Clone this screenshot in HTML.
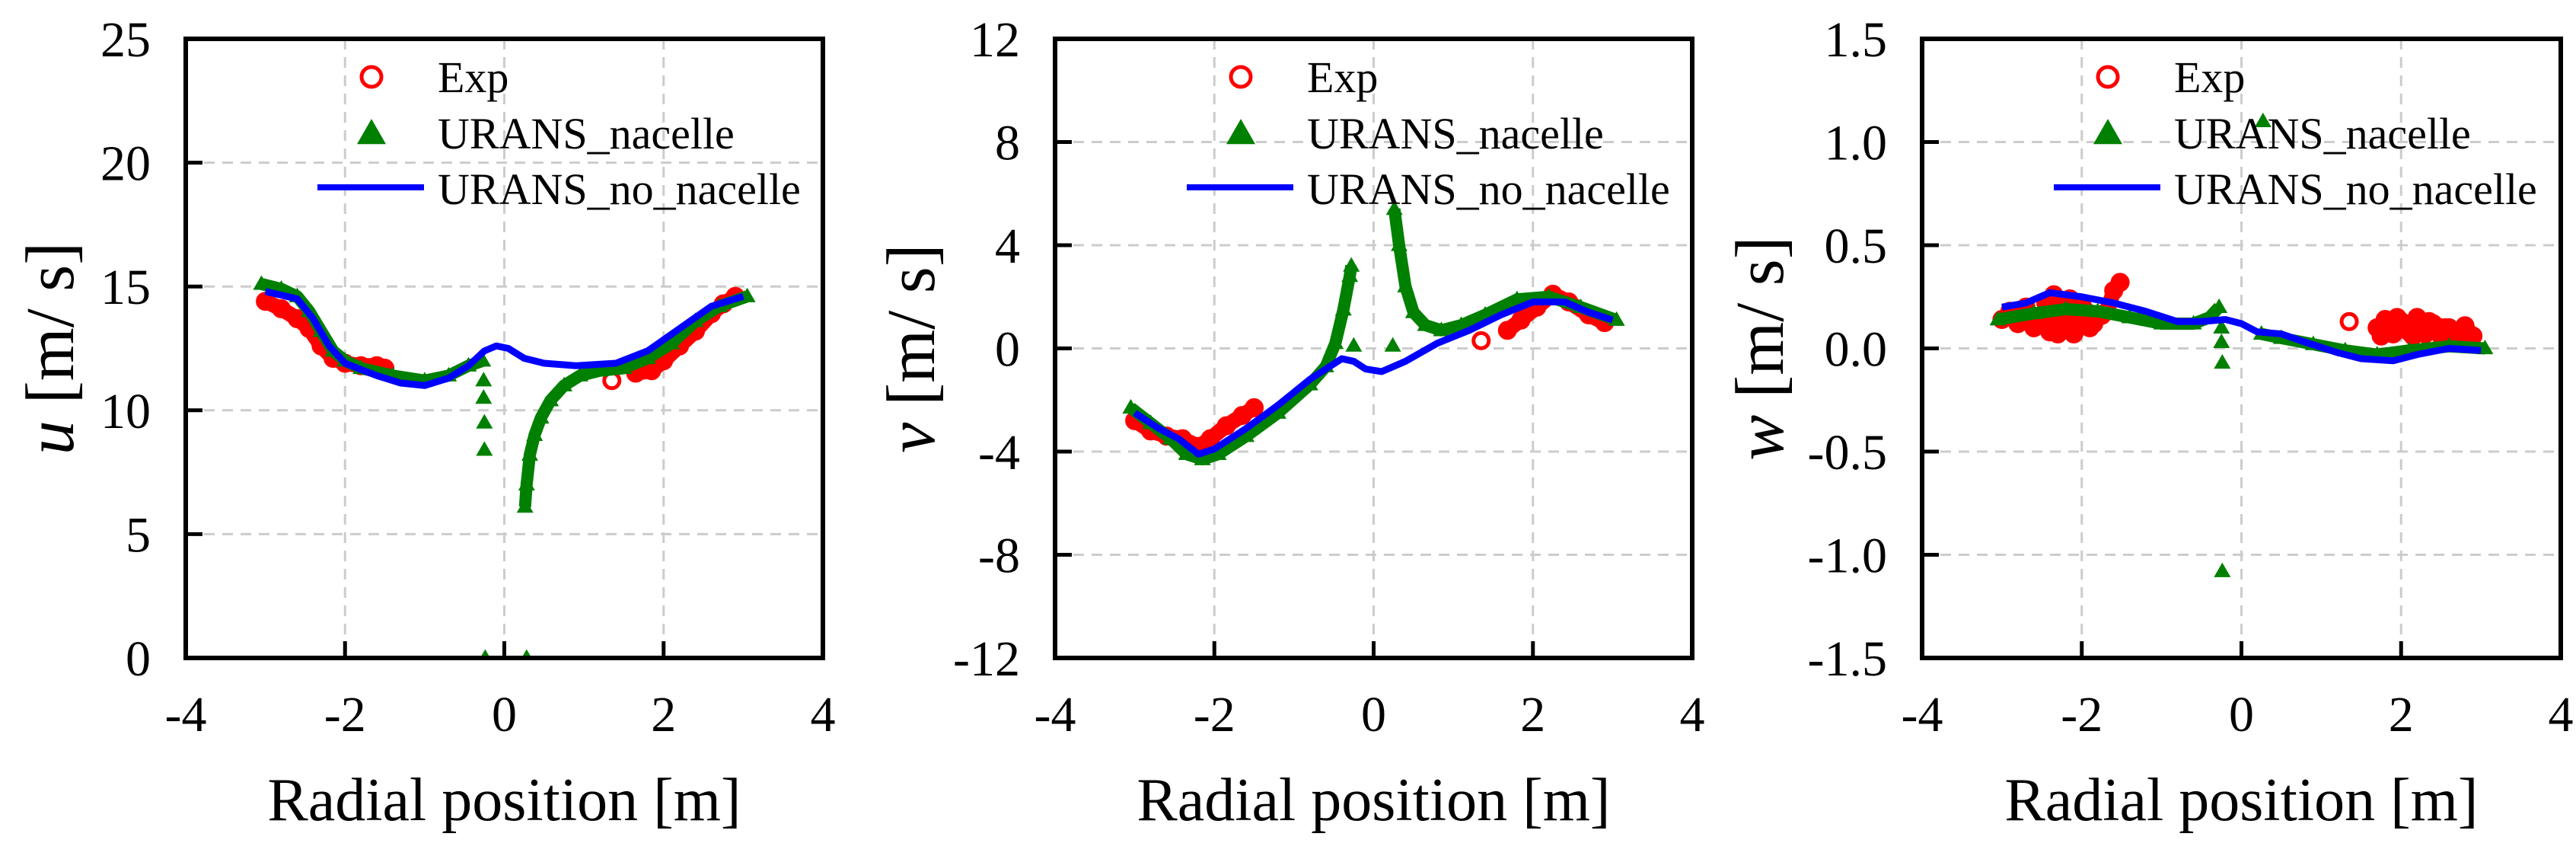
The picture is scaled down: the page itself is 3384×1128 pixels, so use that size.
<!DOCTYPE html>
<html><head><meta charset="utf-8">
<style>
html,body{margin:0;padding:0;background:#fff;}
svg{display:block;font-family:"Liberation Serif",serif;}
</style></head>
<body>
<svg id="fig" xmlns="http://www.w3.org/2000/svg" width="3384" height="1128" viewBox="0 0 3384 1128"></svg>
<script>
// ---------- data ----------
const xTicks = [-4,-2,0,2,4];
const uTicks = [0,5,10,15,20,25];
const vTicks = [-12,-8,-4,0,4,8,12];
const wTicks = [-1.5,-1.0,-0.5,0.0,0.5,1.0,1.5];
const wTickLabels = ["-1.5","-1.0","-0.5","0.0","0.5","1.0","1.5"];

const uExp = [
 [[-3.0,14.4],[-2.8,14.1],[-2.6,13.7],[-2.45,13.3],[-2.3,12.6],[-2.15,12.1],[-2.0,11.9],[-1.8,11.8],[-1.6,11.8],[-1.5,11.7]],
 [[1.35,11.2]],
 [[1.65,11.5],[1.85,11.6],[2.0,12.0],[2.2,12.6],[2.4,13.2],[2.6,13.9],[2.75,14.3],[2.9,14.6]]
];
const uNac = [
 [[-3.05,15.1],[-2.8,14.9],[-2.6,14.6],[-2.45,14.0],[-2.3,13.2],[-2.15,12.4],[-2.0,12.0],[-1.8,11.7],[-1.4,11.4],[-1.0,11.2],[-0.7,11.4],[-0.45,11.8],[-0.27,12.0]],
 [[-0.26,11.2]],[[-0.26,10.5]],[[-0.25,9.5]],[[-0.25,8.4]],[[-0.24,0.0]],[[0.28,0.0]],
 [[0.26,6.1],[0.28,7.0],[0.32,8.2],[0.38,9.0],[0.46,9.7],[0.58,10.4],[0.75,11.0],[0.95,11.4],[1.2,11.6],[1.5,11.7],[1.8,12.1],[2.1,12.7],[2.4,13.6],[2.7,14.2],[3.05,14.6]]
];
const uNoNac = [[-3.0,14.8],[-2.6,14.5],[-2.4,13.7],[-2.2,12.6],[-2.0,11.9],[-1.6,11.4],[-1.3,11.1],[-1.0,11.0],[-0.7,11.3],[-0.45,11.8],[-0.25,12.4],[-0.1,12.6],[0.05,12.5],[0.25,12.1],[0.5,11.9],[0.9,11.8],[1.4,11.9],[1.8,12.4],[2.2,13.3],[2.6,14.2],[3.0,14.6]];

const vExp = [
 [[-3.0,-2.8],[-2.8,-3.2],[-2.6,-3.4],[-2.4,-3.5],[-2.2,-3.8],[-2.05,-3.5],[-1.85,-3.0],[-1.65,-2.6],[-1.5,-2.3]],
 [[1.35,0.3]],
 [[1.68,0.7],[1.85,1.1],[2.05,1.6],[2.25,2.1],[2.45,1.8],[2.7,1.3],[2.9,1.0]]
];
const vNac = [
 [[-3.05,-2.3],[-2.8,-2.9],[-2.55,-3.5],[-2.35,-4.1],[-2.15,-4.3],[-1.95,-4.1],[-1.6,-3.4],[-1.2,-2.5],[-0.8,-1.4],[-0.6,-0.7],[-0.48,0.2],[-0.38,1.5],[-0.3,2.8],[-0.28,3.2]],
 [[-0.25,0.1]],[[0.24,0.1]],
 [[0.26,5.4],[0.32,4.0],[0.4,2.4],[0.5,1.4],[0.65,0.9],[0.85,0.7],[1.1,0.9],[1.4,1.3],[1.8,1.9],[2.2,2.0],[2.6,1.6],[3.05,1.1]]
];
const vNoNac = [[-3.0,-2.5],[-2.7,-3.1],[-2.45,-3.5],[-2.2,-4.1],[-2.0,-3.9],[-1.6,-3.1],[-1.2,-2.2],[-0.8,-1.2],[-0.6,-0.8],[-0.4,-0.4],[-0.25,-0.5],[-0.1,-0.8],[0.1,-0.9],[0.4,-0.5],[0.8,0.2],[1.2,0.7],[1.6,1.3],[2.0,1.8],[2.4,1.8],[2.7,1.4],[3.0,1.1]];

const wExp = [
 [[-3.0,0.14],[-2.9,0.18],[-2.8,0.12],[-2.7,0.2],[-2.6,0.1],[-2.5,0.16],[-2.4,0.08],[-2.35,0.26],[-2.25,0.12],[-2.15,0.24],[-2.05,0.1],[-1.95,0.18],[-1.85,0.12],[-1.75,0.16]],
 [[-2.45,0.22],[-2.3,0.07],[-2.2,0.2],[-2.1,0.07],[-2.0,0.22],[-1.9,0.1]],
 [[-1.68,0.18],[-1.6,0.28],[-1.52,0.32]],
 [[1.35,0.13]],
 [[1.7,0.1],[1.8,0.14],[1.9,0.07],[2.0,0.13],[2.1,0.08],[2.2,0.15],[2.3,0.07],[2.4,0.12],[2.5,0.06],[2.6,0.1],[2.7,0.05],[2.8,0.11],[2.9,0.06]],
 [[1.75,0.06],[1.95,0.15],[2.15,0.06],[2.35,0.13],[2.55,0.1],[2.75,0.08]]
];
const wNac = [
 [[-3.05,0.14],[-2.6,0.17],[-2.2,0.19],[-1.8,0.18],[-1.4,0.15],[-1.0,0.12],[-0.6,0.12],[-0.4,0.15],[-0.28,0.2]],
 [[-0.25,0.1]],[[-0.25,0.03]],[[-0.24,-0.07]],[[-0.24,-1.08]],[[0.27,1.1]],
 [[0.25,0.07],[0.5,0.05],[0.9,0.02],[1.3,-0.01],[1.7,-0.03],[2.1,-0.01],[2.6,0.01],[3.05,0.0]]
];
const wNoNac = [[-3.0,0.2],[-2.7,0.22],[-2.4,0.27],[-2.0,0.25],[-1.6,0.22],[-1.2,0.18],[-0.8,0.13],[-0.5,0.13],[-0.2,0.14],[0.0,0.12],[0.2,0.08],[0.5,0.07],[0.8,0.03],[1.2,-0.02],[1.5,-0.05],[1.9,-0.06],[2.2,-0.03],[2.6,0.0],[3.0,-0.01]];

// ---------- drawing ----------
const NS = "http://www.w3.org/2000/svg";
const svg = document.getElementById('fig');
function mk(tag, attrs, parent){
  const e = document.createElementNS(NS, tag);
  for (const k in attrs) e.setAttribute(k, attrs[k]);
  (parent||svg).appendChild(e);
  return e;
}
const T = 51, B = 864;
const panels = [
  {id:'u', L:244, R:1081, ymin:0, ymax:25, ticks:uTicks, labels:uTicks.map(String), exp:uExp, nac:uNac, no:uNoNac, ylx:66},
  {id:'v', L:1386, R:2223, ymin:-12, ymax:12, ticks:vTicks, labels:vTicks.map(String), exp:vExp, nac:vNac, no:vNoNac, ylx:1197},
  {id:'w', L:2525, R:3364, ymin:-1.5, ymax:1.5, ticks:wTicks, labels:wTickLabels, exp:wExp, nac:wNac, no:wNoNac, ylx:2312}
];
function tri(g, cx, cy, s){
  const h = s*0.87;
  return mk('polygon',{points:`${cx},${cy-h*0.6} ${cx-s/2},${cy+h*0.4} ${cx+s/2},${cy+h*0.4}`, fill:'#008000'}, g);
}
panels.forEach(p=>{
  const g = mk('g',{});
  
  
  const sx = x => p.L + (x+4)/8*(p.R-p.L);
  const sy = y => B - (y-p.ymin)/(p.ymax-p.ymin)*(B-T);
  const grid = mk('g',{stroke:'#cccccc','stroke-width':3,'stroke-dasharray':'14 10',fill:'none'}, g);
  
  
  xTicks.slice(1,-1).forEach(t=>mk('line',{x1:sx(t),x2:sx(t),y1:T,y2:B},grid));
  p.ticks.slice(1,-1).forEach(t=>mk('line',{x1:p.L,x2:p.R,y1:sy(t),y2:sy(t)},grid));
  const tk = mk('g',{stroke:'#000','stroke-width':5}, g);
  xTicks.slice(1,-1).forEach(t=>mk('line',{x1:sx(t),x2:sx(t),y1:B,y2:B-22},tk));
  p.ticks.slice(1,-1).forEach(t=>mk('line',{x1:p.L,x2:p.L+22,y1:sy(t),y2:sy(t)},tk));
  xTicks.forEach(t=>{
    const e = mk('text',{x:sx(t),y:960,'font-size':66,'text-anchor':'middle',fill:'#000'},g);
    e.textContent = String(t);
    
    
  });
  p.ticks.forEach((t,i)=>{
    const e = mk('text',{x:p.L-46,y:sy(t)+23,'font-size':66,'text-anchor':'end',fill:'#000'},g);
    e.textContent = p.labels[i];
    
    
  });
  const xt = mk('text',{x:(p.L+p.R)/2,y:1077,'font-size':80,'text-anchor':'middle',fill:'#000'},g);
  xt.textContent = 'Radial position [m]';
  
  
  const yt = mk('text',{x:0,y:0,'font-size':90,'text-anchor':'middle',fill:'#000',transform:`translate(${p.ylx+30},${(T+B)/2}) rotate(-90)`,'xml:space':'preserve'},g);
  const ti = mk('tspan',{'font-style':'italic'},yt); ti.textContent = p.id;
  const tr = mk('tspan',{dx:22},yt); tr.textContent = '[m/ s]';
  
  
  const cp = mk('clipPath',{id:'clip-'+p.id},g);
  mk('rect',{x:p.L,y:T-30,width:p.R-p.L,height:B-T+30},cp);
  const data = mk('g',{'clip-path':`url(#clip-${p.id})`},g);
  const ge = mk('g',{},data);
  
  
  p.exp.forEach(seg=>{
    if(seg.length>1) mk('polyline',{points:seg.map(d=>sx(d[0])+','+sy(d[1])).join(' '),fill:'none',stroke:'#ff0000','stroke-width':20,'stroke-linejoin':'round','stroke-linecap':'round'},ge);
    seg.forEach(d=>mk('circle',{cx:sx(d[0]),cy:sy(d[1]),r:10,fill:'none',stroke:'#ff0000','stroke-width':5},ge));
  });
  const gn = mk('g',{},data);
  
  
  p.nac.forEach(seg=>{
    if(seg.length>1) mk('polyline',{points:seg.map(d=>sx(d[0])+','+sy(d[1])).join(' '),fill:'none',stroke:'#008000','stroke-width':16,'stroke-linejoin':'round'},gn);
    seg.forEach(d=>tri(gn,sx(d[0]),sy(d[1]),22));
  });
  const gb = mk('polyline',{points:p.no.map(d=>sx(d[0])+','+sy(d[1])).join(' '),fill:'none',stroke:'#0000ff','stroke-width':9,'stroke-linejoin':'round'},data);
  
  
  const fr = mk('rect',{x:p.L,y:T,width:p.R-p.L,height:B-T,fill:'none',stroke:'#000','stroke-width':6},g);
  
  
  const lg = mk('g',{},g);
  
  
  const mx = p.L+244, tx = p.L+331;
  mk('circle',{cx:mx,cy:101,r:13,fill:'none',stroke:'#ff0000','stroke-width':5},lg);
  const l1 = mk('text',{x:tx,y:121,'font-size':58,fill:'#000'},lg); l1.textContent='Exp';
  
  
  tri(lg,mx,176,38);
  const l2 = mk('text',{x:tx,y:195,'font-size':58,fill:'#000'},lg); l2.textContent='URANS_nacelle';
  
  
  mk('line',{x1:p.L+173,x2:p.L+313,y1:246,y2:246,stroke:'#0000ff','stroke-width':8},lg);
  const l3 = mk('text',{x:tx,y:268,'font-size':58,fill:'#000'},lg); l3.textContent='URANS_no_nacelle';
  
  
});
</script>
</body></html>
